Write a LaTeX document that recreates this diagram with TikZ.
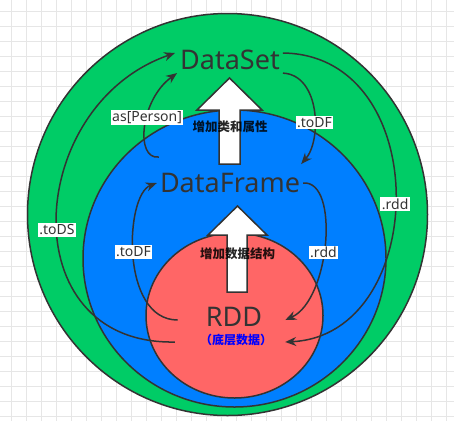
\documentclass[tikz,border=0pt]{standalone}
\usepackage{fontspec}
\setmainfont{Noto Sans}
\newfontfamily\cjk{Noto Sans CJK SC}
\usetikzlibrary{arrows.meta, calc}

\definecolor{setgreen}{HTML}{00CC66}
\definecolor{frameblue}{HTML}{007FFF}
\definecolor{rddred}{HTML}{FF6666}
\definecolor{ink}{HTML}{333333}
\definecolor{gridgray}{HTML}{E6E6E6}

\begin{document}
\begin{tikzpicture}[
    x=1pt, y=-1pt,
    layer/.style={draw=ink, line width=1.5pt},
    title/.style={text=ink, font=\fontsize{27}{30}\selectfont, inner sep=3pt},
    note/.style={font=\cjk\bfseries\fontsize{12.5}{14}\selectfont, text opacity=0.85},
    lbl/.style={fill=white, text=ink, inner sep=1.5pt,
                font=\fontsize{14}{16}\selectfont},
    bigarrow/.style={draw=ink, fill=white, line width=1.5pt, line join=miter},
    conn/.style={draw=ink, line width=1.5pt,
                 -{Stealth[length=11pt, width=9pt]}},
  ]
  \useasboundingbox (0,0) rectangle (454,421);
  % grid
  \foreach \g in {0,...,29} {
    \draw[gridgray, line width=0.8pt] (11.7+15*\g,0) -- (11.7+15*\g,421);
    \draw[gridgray, line width=0.8pt] (0,11.7+15*\g) -- (454,11.7+15*\g);
  }

  % layers
  \draw[layer, fill=setgreen] (227.5,214.5) ellipse [x radius=200, y radius=201];
  \draw[layer, fill=frameblue] (234.5,258.5) ellipse [x radius=151.5, y radius=148.5];
  \draw[bigarrow] (219,164) -- (219,110) -- (197,110) -- (229.5,78)
    -- (262,110) -- (240,110) -- (240,164) -- cycle;
  \draw[layer, fill=rddred] (234.5,315.5) ellipse [x radius=88.5, y radius=82.5];
  \draw[bigarrow] (227,292) -- (227,235) -- (208,235) -- (237.5,206)
    -- (267,235) -- (247,235) -- (247,292) -- cycle;

  \node[title] (dataset) at (230,60) {DataSet};
  \node[title] (dataframe) at (230,183) {DataFrame};
  \node[title] (rdd) at (234,317) {RDD};
  \node[font=\cjk\bfseries\fontsize{12}{14}\selectfont, text=blue,
        inner sep=3pt] (rddnote) at (236,340) {（底层数据）};
  \node[note] (addclass) at (230,127) {增加类和属性};
  \node[note] (addschema) at (237.5,254) {增加数据结构};

  % outer ring
  \draw[conn] ($(rddnote.west)+(-22,2)$) .. controls (10,345) and (25,105)
    .. node[lbl, pos=0.47] {.toDS} ($(dataset.west)+(-2,-7)$);
  \draw[conn] ($(dataset.east)+(0,-7)$) .. controls (435,55) and (430,335)
    .. node[lbl, pos=0.52] {.rdd} ($(rddnote.east)+(10,2)$);
  % between DataSet and DataFrame
  \draw[conn] ($(dataframe.north west)+(2,-13)$) .. controls (135,160) and (140,100)
    .. node[lbl, pos=0.58] {as[Person]} (dataset.south west);
  \draw[conn] (dataset.south east) .. controls (320,75) and (322,140)
    .. node[lbl, pos=0.6] {.toDF} ($(dataframe.north east)+(-2,-6)$);
  % between DataFrame and RDD
  \draw[conn] ($(rdd.west)+(-25,3)$) .. controls (120,320) and (125,195)
    .. node[lbl, pos=0.52] {.toDF} (dataframe.west);
  \draw[conn] (dataframe.east) .. controls (340,180) and (330,300)
    .. node[lbl, pos=0.55] {.rdd} ($(rdd.east)+(20,3)$);
\end{tikzpicture}
\end{document}
